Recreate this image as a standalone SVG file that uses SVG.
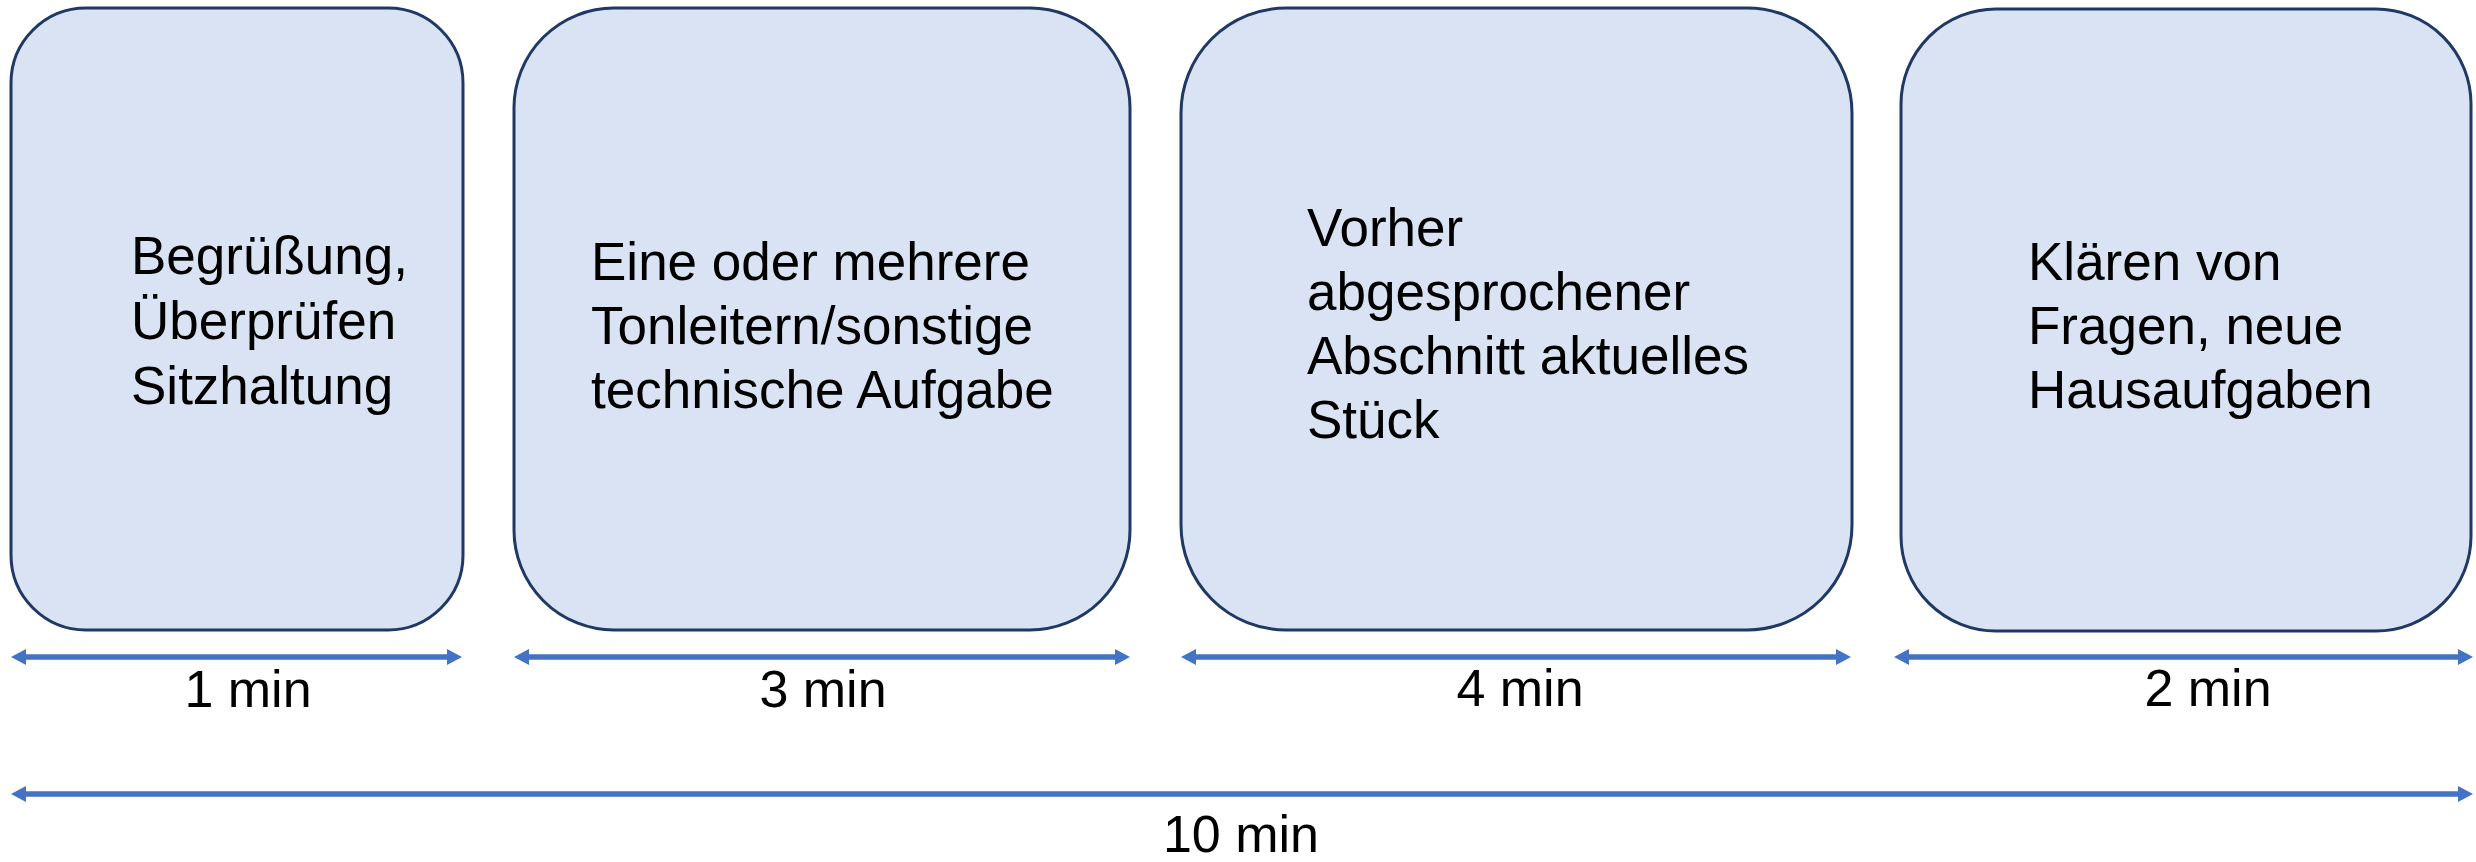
<svg xmlns="http://www.w3.org/2000/svg" width="2476" height="862" viewBox="0 0 2476 862">
<style>
.box{fill:#DAE3F3;stroke:#1F3864;stroke-width:3}
.t{font-family:"Liberation Sans",Arial,sans-serif;font-size:53px;fill:#000}
.lbl{font-family:"Liberation Sans",Arial,sans-serif;font-size:52px;fill:#000;text-anchor:middle}
.arr{stroke:#4472C4;stroke-width:5.5;fill:none;marker-start:url(#ah);marker-end:url(#ah)}
</style>
<defs>
<marker id="ah" markerUnits="userSpaceOnUse" markerWidth="16" markerHeight="16" refX="5" refY="8" orient="auto-start-reverse" viewBox="0 0 16 16">
<path d="M0,0 L15,8 L0,16 z" fill="#4472C4"/>
</marker>
</defs>
<rect width="2476" height="862" fill="#fff"/>
<g id="node1">
<rect class="box" x="11" y="8" width="452" height="622" rx="75" ry="75"/>
<text class="t"><tspan x="131" y="274">Begrüßung,</tspan><tspan x="131" y="339">Überprüfen</tspan><tspan x="131" y="404">Sitzhaltung</tspan></text>
</g>
<g id="node2">
<rect class="box" x="514" y="8" width="616" height="622" rx="100" ry="100"/>
<text class="t"><tspan x="591" y="280">Eine oder mehrere</tspan><tspan x="591" y="344">Tonleitern/sonstige</tspan><tspan x="591" y="408">technische Aufgabe</tspan></text>
</g>
<g id="node3">
<rect class="box" x="1181" y="8" width="671" height="622" rx="105" ry="105"/>
<text class="t"><tspan x="1307" y="246">Vorher</tspan><tspan x="1307" y="310">abgesprochener</tspan><tspan x="1307" y="374">Abschnitt aktuelles</tspan><tspan x="1307" y="438">Stück</tspan></text>
</g>
<g id="node4">
<rect class="box" x="1901" y="9" width="570" height="622" rx="95" ry="95"/>
<text class="t"><tspan x="2028" y="280">Klären von</tspan><tspan x="2028" y="344">Fragen, neue</tspan><tspan x="2028" y="408">Hausaufgaben</tspan></text>
</g>
<g id="connectors">
<line class="arr" x1="21" y1="657" x2="452" y2="657"/>
<line class="arr" x1="524" y1="657" x2="1120" y2="657"/>
<line class="arr" x1="1191" y1="657" x2="1841" y2="657"/>
<line class="arr" x1="1904" y1="657" x2="2463" y2="657"/>
<line class="arr" x1="21" y1="794" x2="2463" y2="794"/>
</g>
<g id="labels">
<text class="lbl" x="248" y="707">1 min</text>
<text class="lbl" x="823" y="707">3 min</text>
<text class="lbl" x="1520" y="706">4 min</text>
<text class="lbl" x="2208" y="706">2 min</text>
<text class="lbl" x="1241" y="852">10 min</text>
</g>
</svg>
